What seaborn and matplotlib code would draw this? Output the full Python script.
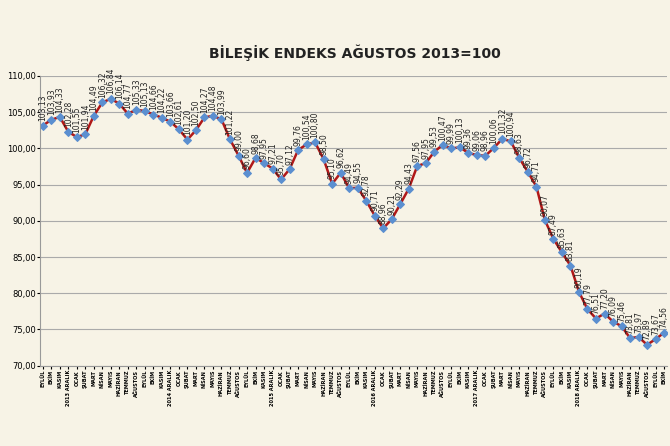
import matplotlib
matplotlib.use("Agg")
import matplotlib.pyplot as plt
import seaborn as sns
import pandas as pd

months = ["OCAK","ŞUBAT","MART","NİSAN","MAYIS","HAZİRAN","TEMMUZ","AĞUSTOS","EYLÜL","EKİM","KASIM","ARALIK"]
labels = ["EYLÜL","EKİM","KASIM","2013 ARALIK"]
for y in [2014,2015,2016,2017,2018]:
    labels += months[:11] + [f"{y} ARALIK"]
labels += months[:10]

values = [103.13,103.93,104.33,102.28,
          101.55,101.94,104.49,106.32,106.84,106.14,104.77,105.33,105.13,104.66,104.22,103.66,
          102.61,101.20,102.50,104.27,104.48,103.99,101.22,99.00,96.60,98.68,97.95,97.21,
          95.70,97.12,99.76,100.54,100.80,98.50,95.10,96.62,94.49,94.55,92.78,90.71,
          88.96,90.21,92.29,94.43,97.56,97.95,99.53,100.47,99.99,100.13,99.36,99.06,
          98.96,100.06,101.32,100.94,98.63,96.72,94.71,90.07,87.49,85.63,83.81,80.19,
          77.79,76.51,77.20,76.09,75.46,73.81,73.97,72.89,73.67,74.56]

df = pd.DataFrame({"x": range(len(values)), "v": values})
bg = "#f7f3e6"
fig = plt.figure(figsize=(6.7, 4.46), dpi=100, facecolor=bg)
ax = fig.add_axes([0.06, 0.18, 0.935, 0.65])
ax.set_facecolor(bg)
sns.lineplot(data=df, x="x", y="v", ax=ax, color="#b01818", linewidth=1.8,
             marker="D", markersize=4.5, markerfacecolor="#5b8fd0", markeredgecolor="#5b8fd0")
for i, v in enumerate(values):
    ax.text(i, v + 0.6, f"{v:.2f}".replace(".", ","), rotation=90, ha="center", va="bottom", fontsize=5.5, color="#222")
ax.set_ylim(70, 110)
ax.set_xlim(-0.3, len(values) - 0.7)
ax.set_yticks(range(70, 111, 5))
ax.set_yticklabels([f"{t},00" for t in range(70, 111, 5)], fontsize=6)
ax.set_xticks(range(len(values)))
ax.set_xticklabels(labels, rotation=90, fontsize=3.6, fontweight="bold")
ax.grid(axis="y", color="#aaaaaa", linewidth=0.8)
ax.set_xlabel(""); ax.set_ylabel("")
for s in ["top", "right"]:
    ax.spines[s].set_visible(False)
ax.spines["left"].set_color("#999"); ax.spines["bottom"].set_color("#999")
ax.tick_params(length=2, pad=1)
fig.text(0.53, 0.87, "BİLEŞİK ENDEKS AĞUSTOS 2013=100", ha="center", fontsize=10, fontweight="bold", color="#222")
fig.savefig("out.png", dpi=100, facecolor=bg)
